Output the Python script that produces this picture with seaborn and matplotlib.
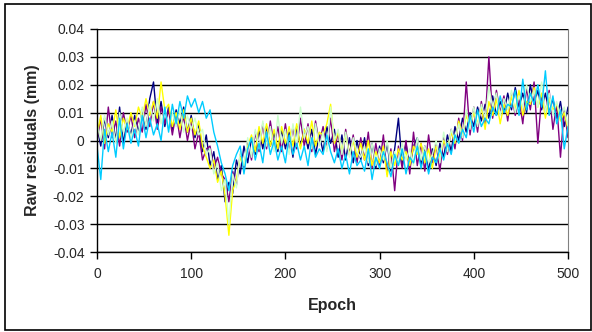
import matplotlib
matplotlib.use("Agg")
import matplotlib.pyplot as plt
import seaborn as sns
import pandas as pd
from matplotlib.patches import Rectangle

# x positions (epochs) and series values in thousandths of a mm
epochs = list(range(0, 501, 4))

navy_um = [5,-2,8,1,9,0,12,-1,7,2,
           9,3,11,4,15,21,6,14,5,12,
           4,11,6,12,3,9,1,6,-4,2,
           -9,-4,-14,-9,-22,-15,-19,-7,-12,-2,
           -8,1,-5,4,-3,5,-2,3,-4,4,
           -3,3,-6,5,-2,4,-3,4,-5,2,
           -4,5,-1,4,-6,2,-7,1,-8,0,
           -7,1,-9,-1,-10,-2,-8,-1,-11,-3,
           8,-9,-1,-10,-2,1,-9,-2,-11,-3,
           -9,-1,-6,2,-4,5,0,8,3,10,
           5,12,7,13,8,16,9,14,10,17,
           11,19,12,17,10,20,13,18,11,17,
           10,15,8,14,5,12]

purple_um = [0,8,-3,12,1,7,-2,10,3,9,
             1,8,3,13,5,14,4,12,6,11,
             2,10,1,9,0,7,-3,3,-7,-3,
             -2,-10,-6,-12,-14,-22,-11,-16,-5,-10,
             0,-7,3,-4,6,-3,7,-2,5,-4,
             6,-4,5,-3,8,-2,6,-4,7,-1,
             5,-3,8,-4,3,-7,4,-5,2,-8,
             1,-7,3,-10,-1,-9,2,-12,-3,-18,
             -2,-10,0,-12,3,-9,-1,-11,2,-8,
             -1,-11,1,-5,4,-3,8,0,21,2,
             12,3,14,6,30,8,18,10,16,7,
             17,9,15,6,19,11,21,-1,16,10,
             18,4,13,-6,11,1]

yellow_um = [2,9,-1,6,3,11,1,8,4,10,
             5,12,8,15,9,14,8,21,11,13,
             5,10,4,11,3,8,2,7,-2,-6,
             -10,-7,-15,-11,-20,-34,-18,-14,-6,-9,
             -2,2,-4,5,-1,6,-2,4,-3,5,
             -1,5,-2,6,-3,4,-1,7,-2,3,
             2,6,13,-1,3,-4,2,-5,0,-6,
             -1,-7,0,-9,-4,-8,-2,-13,-4,-9,
             -3,-7,-4,-9,-2,-5,-1,-8,-3,-10,
             -2,-6,0,-3,3,-1,7,2,9,5,
             10,6,12,4,14,9,15,6,13,9,
             16,11,18,9,14,13,19,12,17,8,
             15,11,13,7,10,4]

green_um = [6,0,9,2,7,-1,10,3,8,1,
            7,2,12,5,13,7,15,6,12,4,
            10,5,11,3,9,4,8,2,4,-5,
            -3,-12,-8,-18,-14,-30,-12,-17,-4,-9,
            1,-6,4,-3,7,-2,5,-4,9,-1,
            4,-5,6,-2,12,1,5,-3,6,-2,
            3,-4,12,0,4,-5,3,-6,1,-4,
            -6,-2,-8,-1,-9,-3,-7,0,-10,-4,
            -8,-1,-7,-3,-9,1,-7,-2,-8,-5,
            0,-8,3,-4,4,0,6,1,11,4,
            12,5,13,8,19,12,17,9,15,11,
            18,10,16,12,20,14,18,12,21,10,
            17,9,14,8,12,5]

cyan_um = [-2,-14,4,-4,3,-6,8,-3,6,-1,
           4,-2,9,1,8,2,6,0,12,3,
           13,6,14,8,16,12,15,10,14,8,
           11,3,-2,-8,-12,-18,-9,-5,-2,-12,
           -3,1,-7,-1,-8,3,-5,0,-7,-2,
           -8,2,-5,-1,-7,-2,-9,1,-6,-3,
           -5,2,-4,-8,-3,-10,-5,-12,-4,-9,
           -7,-11,-3,-14,-6,-10,-4,-8,-13,-5,
           -9,-3,-12,-6,-8,-2,-10,-4,-12,-6,
           -8,-3,-7,-1,-5,2,-1,4,1,9,
           3,11,5,8,6,12,9,16,10,13,
           12,18,9,22,11,17,13,20,12,25,
           9,16,6,11,-3,5]

series_names = ["S1", "S2", "S3", "S4", "S5"]
series_vals = [navy_um, purple_um, yellow_um, green_um, cyan_um]
series_colors = ["#000080", "#800080", "#FFFF00", "#CCFFCC", "#00CCFF"]

y_ticks = [-0.04, -0.03, -0.02, -0.01, 0, 0.01, 0.02, 0.03, 0.04]
y_ticklabels = ["-0.04", "-0.03", "-0.02", "-0.01", "0", "0.01", "0.02", "0.03", "0.04"]
x_ticks = [0, 100, 200, 300, 400, 500]

rows = []
for name, vals in zip(series_names, series_vals):
    for e, v in zip(epochs, vals):
        rows.append({"Epoch": e, "value": v / 1000.0, "series": name})
df = pd.DataFrame(rows)

sns.set_style("white")
plt.rcParams["font.family"] = ["Liberation Sans", "DejaVu Sans"]

fig = plt.figure(figsize=(5.92, 3.32), dpi=100)
ax = fig.add_axes([97/592, 1-252/332, (568-97)/592, (252-29)/332])

for y in y_ticks:
    ax.axhline(y, color="black", lw=1.0, zorder=0)

sns.lineplot(data=df, x="Epoch", y="value", hue="series",
             palette=dict(zip(series_names, series_colors)),
             hue_order=series_names, lw=1.0, legend=False, ax=ax,
             estimator=None, sort=False)

ax.set_xlim(0, 500)
ax.set_ylim(-0.04, 0.04)
ax.set_xticks(x_ticks)
ax.set_xticklabels([str(t) for t in x_ticks])
ax.set_yticks(y_ticks)
ax.set_yticklabels(y_ticklabels)
ax.tick_params(axis="both", direction="out", length=5, width=1, color="black",
               labelsize=10, left=True, bottom=True)
ax.tick_params(axis="x", pad=6)
ax.tick_params(axis="y", pad=4)
ax.set_xlabel("Epoch", fontsize=11.5, fontweight="bold", labelpad=12)
ax.set_ylabel("Raw residuals (mm)", fontsize=11.5, fontweight="bold", labelpad=9)

for side in ["left", "bottom"]:
    ax.spines[side].set_color("black")
    ax.spines[side].set_linewidth(1.0)
ax.spines["right"].set_color("#808080")
ax.spines["top"].set_visible(False)

fig.patches.append(Rectangle((5/592, 2/332), 586/592, 326/332, transform=fig.transFigure,
                             fill=False, edgecolor="black", lw=1.2))

fig.savefig("out.png", dpi=100)
